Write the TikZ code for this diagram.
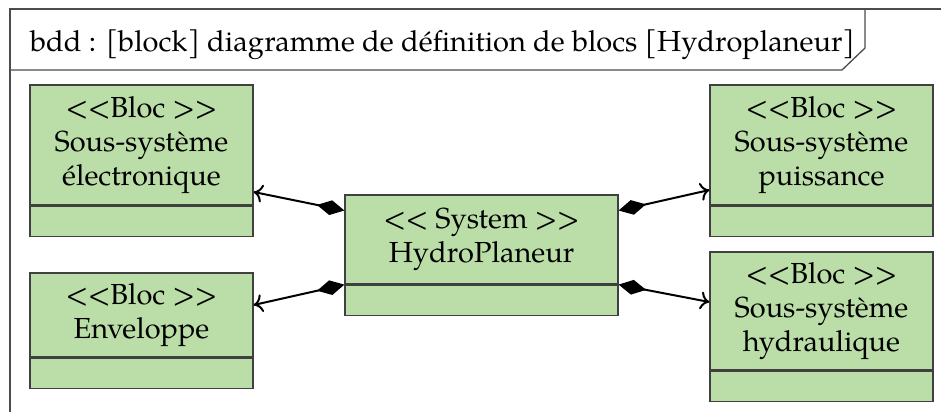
\documentclass[tikz,border=0pt]{standalone}
\usepackage{fontspec}
\setmainfont{TeX Gyre Pagella}
\usetikzlibrary{arrows.meta,positioning}
\definecolor{blocvert}{RGB}{187,222,168}

\begin{document}
\begin{tikzpicture}[x=1pt, y=-1pt, font=\fontsize{29}{34}\selectfont]
\tikzstyle{cadre}=[black!70, line width=1.3pt];
\tikzstyle{bloc}=[draw=black!75, fill=blocvert, line width=1.2pt, minimum width=223pt, inner sep=0pt, align=center];
\tikzstyle{compart}=[bloc, minimum height=30pt];
\tikzstyle{compo}=[line width=2pt, {Diamond[length=28pt, width=15pt]}-{To[length=9pt, width=18pt]}];
\useasboundingbox (0,0) rectangle (941,412);

% cadre du diagramme
\draw[cadre] (10,412) -- (10,9) -- (941,9);
\draw[cadre] (10,70) -- (842,70) -- (865,48) -- (865,9);
\node[anchor=base west, inner sep=0pt] (titre) at (30,52) {bdd : [block] diagramme de définition de blocs [Hydroplaneur]};

% blocs
\node[bloc, minimum height=120pt] (elec) at (141.5,145) {<{}<Bloc >{}>\\Sous-système\\électronique};
\node[compart, below=0pt of elec] (elecp) {};
\node[bloc, minimum height=84pt] (env) at (141.5,315) {<{}<Bloc >{}>\\Enveloppe};
\node[compart, below=0pt of env] (envp) {};
\node[bloc, minimum width=273pt, minimum height=89pt] (sys) at (481.5,239.5) {<{}< System >{}>\\HydroPlaneur};
\node[compart, minimum width=273pt, below=0pt of sys] (sysp) {};
\node[bloc, minimum height=120pt] (puis) at (821.5,145) {<{}<Bloc >{}>\\Sous-système\\puissance};
\node[compart, below=0pt of puis] (puisp) {};
\node[bloc, minimum height=118pt] (hydr) at (821.5,311) {<{}<Bloc >{}>\\Sous-système\\hydraulique};
\node[compart, below=0pt of hydr] (hydrp) {};

% compositions
\draw[compo] ([yshift=29pt]sys.west) -- ([yshift=-47pt]elec.east);
\draw[compo] (sysp.north west) -- ([yshift=10pt]env.east);
\draw[compo] ([yshift=29pt]sys.east) -- ([yshift=-45pt]puis.west);
\draw[compo] (sysp.north east) -- ([yshift=9pt]hydr.west);
\end{tikzpicture}
\end{document}
